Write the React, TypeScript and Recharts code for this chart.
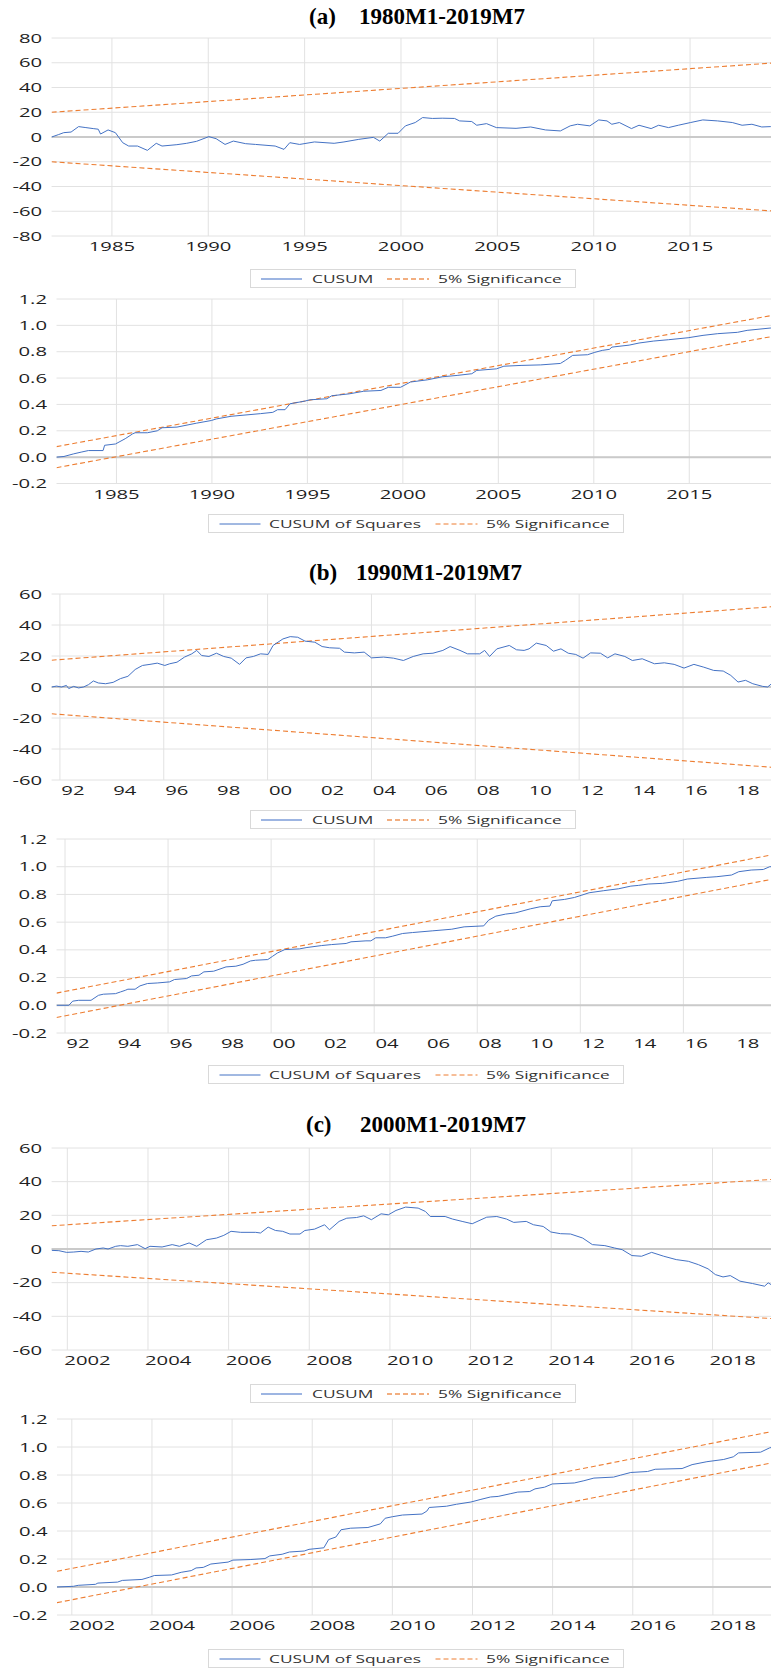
import { LineChart, Line, XAxis, YAxis, CartesianGrid, ReferenceLine } from 'recharts'

type Pt = [number, number]

const BLUE = '#4472C4'
const ORANGE = '#ED7D31'
const GRID = '#E2E2E2'
const SANS = '"Open Sans", sans-serif'
const SERIF = '"Liberation Serif", "Times New Roman", serif'
const STRETCH = 1.62
const PAD = 10 // room above the plot for the top tick label

// (a) 1980M1-2019M7
const cusumA: Pt[] = [
  [1981.87, 0], [1982.24, 2], [1982.5, 3.5], [1982.88, 4], [1983.27, 8.4], [1983.65, 7.6], [1984.03, 6.8],
  [1984.29, 6.3], [1984.41, 2.4], [1984.8, 5.7], [1985.18, 3.5], [1985.56, -4.6], [1985.87, -7.3],
  [1986.33, -7.3], [1986.84, -10.8], [1987.3, -5.1], [1987.6, -7.3], [1988.37, -6.2], [1988.88, -5.1],
  [1989.39, -3.5], [1990.03, 0.3], [1990.41, -1.4], [1990.87, -6], [1991.3, -3.3], [1991.94, -5.4],
  [1992.45, -6], [1993.47, -7.3], [1993.93, -10], [1994.23, -4.6], [1994.74, -6], [1995.51, -4],
  [1996.53, -5.1], [1997.04, -4], [1997.81, -1.9], [1998.57, -0.3], [1998.9, -3.3], [1999.34, 3],
  [1999.85, 3], [2000.23, 9], [2000.74, 11.7], [2001.12, 15.7], [2001.63, 15], [2002.14, 15.2],
  [2002.78, 15], [2003.04, 13], [2003.67, 12.5], [2003.93, 9.5], [2004.44, 10.8], [2004.95, 7.6],
  [2005.97, 7], [2006.73, 8.1], [2007.5, 5.7], [2008.27, 4.9], [2008.78, 9], [2009.16, 10.3],
  [2009.8, 9], [2010.26, 13.8], [2010.69, 13], [2010.94, 10.3], [2011.33, 11.7], [2011.96, 6.8],
  [2012.35, 9.5], [2012.98, 6.8], [2013.37, 9.5], [2013.88, 7.6], [2014.39, 9.5], [2015.03, 11.7],
  [2015.66, 13.8], [2016.43, 13], [2017.19, 11.7], [2017.7, 9.5], [2018.21, 10.3], [2018.72, 8.1],
  [2019.18, 8.4], [2019.5, 8.5],
]
const sigAUp: Pt[] = [[1981.87, 20], [2019.5, 60]]
const sigALo: Pt[] = [[1981.87, -20], [2019.5, -60]]

const cusumSqA: Pt[] = [
  [1981.86, 0], [1982.25, 0.005], [1982.76, 0.025], [1983.15, 0.038], [1983.53, 0.05], [1984.3, 0.05],
  [1984.38, 0.09], [1984.95, 0.1], [1985.46, 0.14], [1985.85, 0.177], [1985.98, 0.185], [1986.62, 0.185],
  [1987.14, 0.2], [1987.39, 0.223], [1988.17, 0.228], [1989.2, 0.258], [1989.97, 0.278], [1990.23, 0.29],
  [1991.0, 0.31], [1992.54, 0.33], [1993.19, 0.34], [1993.44, 0.36], [1993.83, 0.36], [1994.09, 0.405],
  [1994.86, 0.425], [1995.12, 0.435], [1996.02, 0.443], [1996.28, 0.466], [1997.18, 0.48], [1997.95, 0.5],
  [1998.85, 0.506], [1999.24, 0.53], [1999.88, 0.53], [2000.4, 0.57], [2001.3, 0.587], [2002.07, 0.61],
  [2002.84, 0.62], [2003.61, 0.633], [2003.87, 0.658], [2004.9, 0.67], [2005.29, 0.69], [2006.19, 0.696],
  [2007.22, 0.7], [2008.25, 0.711], [2008.51, 0.734], [2008.89, 0.772], [2009.67, 0.777], [2010.05, 0.795],
  [2010.44, 0.81], [2010.82, 0.818], [2010.95, 0.835], [2011.85, 0.85], [2012.37, 0.866], [2013.14, 0.881],
  [2013.91, 0.891], [2014.94, 0.906], [2015.72, 0.924], [2016.49, 0.937], [2017.52, 0.947], [2018.03, 0.962],
  [2019.27, 0.98], [2019.5, 1.0],
]
const sigSqAUp: Pt[] = [[1981.86, 0.08], [2019.5, 1.08]]
const sigSqALo: Pt[] = [[1981.86, -0.08], [2019.5, 0.92]]

// (b) 1990M1-2019M7
const cusumB: Pt[] = [
  [1991.68, 0], [1991.87, 0.6], [1992.06, 0], [1992.25, 1], [1992.34, -1], [1992.53, 0.4], [1992.72, -0.6],
  [1992.91, 0], [1993.1, 1.5], [1993.29, 3.9], [1993.48, 2.6], [1993.76, 2.1], [1994.05, 3], [1994.33, 5.4],
  [1994.62, 6.9], [1994.9, 11.3], [1995.18, 13.9], [1995.47, 14.6], [1995.75, 15.4], [1996.04, 13.9],
  [1996.23, 15], [1996.51, 16], [1996.8, 19.3], [1997.08, 21.4], [1997.27, 23.6], [1997.46, 20.3],
  [1997.74, 19.7], [1998.03, 21.8], [1998.31, 19.7], [1998.6, 18.6], [1998.92, 14.6], [1999.17, 18.8],
  [1999.45, 19.7], [1999.73, 21.4], [2000.02, 21], [2000.21, 26.8], [2000.59, 31], [2000.87, 32.5],
  [2001.16, 32.1], [2001.44, 29.6], [2001.82, 28.9], [2002.1, 26.1], [2002.39, 25.3], [2002.77, 25],
  [2002.96, 22.5], [2003.34, 22], [2003.72, 22.5], [2004.0, 18.8], [2004.47, 19.3], [2004.85, 18.6],
  [2005.23, 17.1], [2005.61, 19.7], [2005.99, 21.4], [2006.37, 21.8], [2006.75, 23.6], [2007.03, 26.1],
  [2007.41, 23.6], [2007.7, 21.4], [2008.17, 21.4], [2008.36, 23.6], [2008.55, 19.7], [2008.83, 24.6],
  [2009.31, 26.8], [2009.59, 24], [2009.88, 23.6], [2010.07, 24.6], [2010.35, 28.3], [2010.73, 26.8],
  [2011.01, 23.1], [2011.3, 24.6], [2011.58, 21.8], [2011.87, 21], [2012.15, 18.6], [2012.44, 22],
  [2012.82, 21.8], [2013.1, 18.8], [2013.38, 21.4], [2013.76, 19.7], [2014.05, 17.1], [2014.43, 18.2],
  [2014.9, 15], [2015.28, 15.6], [2015.66, 14.6], [2016.04, 12.2], [2016.42, 14.6], [2016.8, 12.8],
  [2017.18, 10.7], [2017.55, 10.3], [2017.84, 7.5], [2018.12, 3.2], [2018.41, 4.3], [2018.69, 2.1],
  [2019.07, 0.4], [2019.26, 0], [2019.41, 2.1], [2019.5, 2.5],
]
const sigBUp: Pt[] = [[1991.68, 17.3], [2019.5, 51.9]]
const sigBLo: Pt[] = [[1991.68, -17.3], [2019.5, -51.9]]

const cusumSqB: Pt[] = [
  [1991.68, 0], [1992.15, 0], [1992.3, 0.03], [1992.53, 0.036], [1993.01, 0.036], [1993.3, 0.072],
  [1993.49, 0.08], [1993.96, 0.084], [1994.15, 0.096], [1994.34, 0.108], [1994.44, 0.116], [1994.72, 0.116],
  [1994.91, 0.14], [1995.2, 0.157], [1995.58, 0.161], [1996.06, 0.169], [1996.25, 0.186], [1996.72, 0.193],
  [1996.91, 0.212], [1997.2, 0.217], [1997.39, 0.241], [1997.77, 0.246], [1998.25, 0.277], [1998.63, 0.282],
  [1998.91, 0.296], [1999.2, 0.32], [1999.39, 0.325], [1999.87, 0.33], [2000.06, 0.354], [2000.25, 0.378],
  [2000.53, 0.402], [2001.1, 0.407], [2001.39, 0.417], [2001.96, 0.431], [2002.34, 0.438], [2002.91, 0.446],
  [2003.1, 0.458], [2003.68, 0.465], [2003.87, 0.465], [2004.06, 0.487], [2004.44, 0.487], [2004.72, 0.499],
  [2005.1, 0.518], [2005.49, 0.525], [2006.25, 0.537], [2007.01, 0.549], [2007.49, 0.566], [2008.25, 0.573],
  [2008.44, 0.614], [2008.72, 0.643], [2009.1, 0.658], [2009.49, 0.667], [2010.06, 0.696], [2010.44, 0.711],
  [2010.82, 0.716], [2010.91, 0.754], [2011.39, 0.764], [2011.77, 0.778], [2012.06, 0.795], [2012.34, 0.812],
  [2012.91, 0.827], [2013.49, 0.841], [2013.96, 0.86], [2014.25, 0.865], [2014.63, 0.875], [2015.2, 0.88],
  [2015.77, 0.894], [2016.15, 0.911], [2016.91, 0.923], [2017.3, 0.928], [2017.87, 0.94], [2018.15, 0.964],
  [2018.63, 0.976], [2019.1, 0.98], [2019.35, 1.0], [2019.5, 1.0],
]
const sigSqBUp: Pt[] = [[1991.67, 0.088], [2019.5, 1.088]]
const sigSqBLo: Pt[] = [[1991.67, -0.088], [2019.5, 0.912]]

// (c) 2000M1-2019M7
const cusumC: Pt[] = [
  [2001.61, -0.8], [2001.79, -1], [2001.98, -2], [2002.16, -1.8], [2002.34, -1.4], [2002.52, -1.8],
  [2002.71, 0], [2002.89, 0.6], [2003.01, 0], [2003.2, 1.6], [2003.32, 2], [2003.5, 1.6], [2003.74, 2.6],
  [2003.93, 0.2], [2004.05, 1.6], [2004.35, 1.2], [2004.6, 2.6], [2004.78, 1.6], [2005.02, 3.6],
  [2005.21, 1.6], [2005.45, 5.5], [2005.7, 6.5], [2005.88, 8.1], [2006.06, 10.5], [2006.3, 9.9],
  [2006.67, 9.9], [2006.79, 9.5], [2006.98, 13], [2007.16, 11], [2007.34, 10.5], [2007.52, 8.9],
  [2007.77, 8.9], [2007.89, 11], [2008.13, 11.8], [2008.38, 14.4], [2008.5, 11.4], [2008.74, 16.4],
  [2008.93, 18.3], [2009.17, 18.7], [2009.35, 19.7], [2009.54, 17.4], [2009.78, 20.9], [2009.96, 20.3],
  [2010.15, 22.9], [2010.39, 24.9], [2010.7, 24.3], [2010.88, 22.3], [2011.0, 19.3], [2011.37, 19.3],
  [2011.55, 17.8], [2011.79, 16.4], [2012.04, 15], [2012.4, 18.9], [2012.65, 19.3], [2012.89, 17.8],
  [2013.07, 15.8], [2013.38, 16.4], [2013.56, 14.4], [2013.8, 13.4], [2013.99, 10.1], [2014.23, 9.1],
  [2014.48, 8.9], [2014.78, 6.5], [2015.02, 2.6], [2015.33, 2], [2015.57, 0.6], [2015.76, -0.4],
  [2016.0, -3.9], [2016.24, -4.3], [2016.49, -2], [2016.79, -4.3], [2017.1, -6.3], [2017.4, -7.3],
  [2017.65, -9.3], [2017.89, -11.8], [2018.07, -15.2], [2018.26, -16.6], [2018.44, -15.8], [2018.68, -19.1],
  [2018.99, -20.5], [2019.29, -22.1], [2019.38, -20.1], [2019.45, -21.1], [2019.5, -21],
]
const sigCUp: Pt[] = [[2001.61, 13.8], [2019.5, 41.4]]
const sigCLo: Pt[] = [[2001.61, -13.8], [2019.5, -41.4]]

const cusumSqC: Pt[] = [
  [2001.61, 0], [2002.04, 0.005], [2002.16, 0.012], [2002.59, 0.019], [2002.65, 0.028], [2003.14, 0.035],
  [2003.26, 0.047], [2003.75, 0.054], [2003.94, 0.07], [2004.06, 0.082], [2004.49, 0.086], [2004.73, 0.105],
  [2004.98, 0.117], [2005.1, 0.136], [2005.28, 0.14], [2005.47, 0.164], [2005.9, 0.178], [2006.02, 0.192],
  [2006.45, 0.196], [2006.82, 0.203], [2006.94, 0.222], [2007.25, 0.234], [2007.43, 0.25], [2007.8, 0.257],
  [2007.92, 0.269], [2008.29, 0.28], [2008.41, 0.339], [2008.59, 0.357], [2008.72, 0.409], [2008.96, 0.42],
  [2009.39, 0.425], [2009.7, 0.451], [2009.82, 0.491], [2010.0, 0.502], [2010.25, 0.514], [2010.74, 0.521],
  [2010.86, 0.542], [2010.92, 0.568], [2011.35, 0.577], [2011.6, 0.591], [2011.96, 0.607], [2012.21, 0.626],
  [2012.45, 0.643], [2012.64, 0.647], [2012.94, 0.666], [2013.13, 0.678], [2013.43, 0.682], [2013.56, 0.701],
  [2013.8, 0.713], [2013.99, 0.736], [2014.54, 0.743], [2014.78, 0.759], [2015.03, 0.778], [2015.52, 0.785],
  [2015.7, 0.799], [2015.95, 0.818], [2016.37, 0.825], [2016.56, 0.841], [2017.23, 0.846], [2017.48, 0.874],
  [2017.85, 0.895], [2018.27, 0.911], [2018.51, 0.93], [2018.64, 0.958], [2019.19, 0.963], [2019.41, 0.993],
  [2019.5, 1.0],
]
const sigSqCUp: Pt[] = [[2001.63, 0.112], [2019.5, 1.112]]
const sigSqCLo: Pt[] = [[2001.63, -0.112], [2019.5, 0.888]]

// axis ticks
const cusumTicksA = [-80, -60, -40, -20, 0, 20, 40, 60, 80]
const cusumTicksBC = [-60, -40, -20, 0, 20, 40, 60]
const sqTicks = [-0.2, 0, 0.2, 0.4, 0.6, 0.8, 1.0, 1.2]
const yearsA = [1985, 1990, 1995, 2000, 2005, 2010, 2015]
const labelsB = [1992.5, 1994.5, 1996.5, 1998.5, 2000.5, 2002.5, 2004.5, 2006.5, 2008.5, 2010.5, 2012.5, 2014.5, 2016.5, 2018.5]
const gridB = [1992, 1996, 2000, 2004, 2008, 2012, 2016]
const labelsC = [2002.5, 2004.5, 2006.5, 2008.5, 2010.5, 2012.5, 2014.5, 2016.5, 2018.5]
const gridC = [2002, 2004, 2006, 2008, 2010, 2012, 2014, 2016, 2018]

const toRows = (pts: Pt[]) => pts.map(([x, y]) => ({ x, y }))
const fullYear = (v: number) => String(Math.floor(v))
const shortYear = (v: number) => String(Math.floor(v) % 100).padStart(2, '0')
const intFmt = (v: number) => String(v)
const decFmt = (v: number) => v.toFixed(1)

function XTick({ x, y, payload, fmt }: any) {
  return (
    <g transform={`translate(${x},${y + 15})`}>
      <text transform={`scale(${STRETCH},1)`} textAnchor="middle" fontFamily={SANS} fontSize={12.5} fill="#1f1f1f">
        {fmt(payload.value)}
      </text>
    </g>
  )
}

function YTick({ x, y, payload, fmt }: any) {
  return (
    <g transform={`translate(${x},${y + 4.5})`}>
      <text transform={`scale(${STRETCH},1)`} textAnchor="end" fontFamily={SANS} fontSize={12.5} fill="#1f1f1f">
        {fmt(payload.value)}
      </text>
    </g>
  )
}

interface PanelProps {
  top: number
  bottom: number
  left: number
  xDomain: [number, number]
  xTicks: number[]
  xGrid: number[]
  xFmt: (v: number) => string
  yDomain: [number, number]
  yTicks: number[]
  yFmt: (v: number) => string
  series: Pt[]
  upper: Pt[]
  lower: Pt[]
}

function Panel(p: PanelProps) {
  const h = p.bottom - p.top
  return (
    <div style={{ position: 'absolute', left: 0, top: p.top - PAD }}>
      <LineChart width={771} height={h + 24 + PAD} margin={{ top: PAD, right: 0, bottom: 0, left: 0 }}>
        <CartesianGrid vertical={false} stroke={GRID} />
        <XAxis
          type="number"
          dataKey="x"
          domain={p.xDomain}
          allowDataOverflow
          ticks={p.xTicks}
          interval={0}
          tickSize={0}
          tickMargin={0}
          axisLine={false}
          tickLine={false}
          height={24}
          tick={<XTick fmt={p.xFmt} />}
        />
        <YAxis
          type="number"
          dataKey="y"
          domain={p.yDomain}
          allowDataOverflow
          ticks={p.yTicks}
          interval={0}
          tickSize={0}
          tickMargin={9.5}
          axisLine={false}
          tickLine={false}
          width={p.left}
          tick={<YTick fmt={p.yFmt} />}
        />
        {p.xGrid.map((g) => (
          <ReferenceLine key={g} x={g} stroke={GRID} />
        ))}
        <ReferenceLine y={0} stroke="#CACACA" strokeWidth={2} />
        <Line data={toRows(p.upper)} dataKey="y" stroke={ORANGE} strokeWidth={1.1} strokeDasharray="5 3" dot={false} isAnimationActive={false} />
        <Line data={toRows(p.lower)} dataKey="y" stroke={ORANGE} strokeWidth={1.1} strokeDasharray="5 3" dot={false} isAnimationActive={false} />
        <Line data={toRows(p.series)} dataKey="y" stroke={BLUE} strokeWidth={1} dot={false} isAnimationActive={false} />
      </LineChart>
    </div>
  )
}

function StretchText({ x, children }: { x: number; children: string }) {
  return (
    <span
      style={{
        position: 'absolute',
        left: x,
        top: 0,
        lineHeight: '19px',
        fontFamily: SANS,
        fontSize: 10.5,
        color: '#333',
        whiteSpace: 'nowrap',
        transform: `scaleX(1.65)`,
        transformOrigin: 'left center',
      }}
    >
      {children}
    </span>
  )
}

function LegendBox({ top, squares }: { top: number; squares?: boolean }) {
  const left = squares ? 207.5 : 250
  const width = squares ? 416 : 326
  const solidX = squares ? 11.5 : 11
  const textX = squares ? 61.5 : 62
  const dashX = squares ? 227.5 : 137
  const sigX = squares ? 278.5 : 188
  const solidColor = squares ? BLUE : '#9DB5E2'
  const dashColor = squares ? ORANGE : '#F2AE80'
  const sw = squares ? 1 : 2
  return (
    <div
      style={{
        position: 'absolute',
        left,
        top,
        width,
        height: 19,
        border: '1px solid #D9D9D9',
        boxSizing: 'border-box',
        background: '#fff',
      }}
    >
      <svg width={width} height={19} style={{ position: 'absolute', left: -1, top: -1 }}>
        <line x1={solidX} x2={solidX + 41} y1={10} y2={10} stroke={solidColor} strokeWidth={sw} />
        <line x1={dashX} x2={dashX + 42} y1={10} y2={10} stroke={dashColor} strokeWidth={sw} strokeDasharray="5 3" />
      </svg>
      <StretchText x={textX - 1}>{squares ? 'CUSUM of Squares' : 'CUSUM'}</StretchText>
      <StretchText x={sigX - 1}>5% Significance</StretchText>
    </div>
  )
}

function Title({ y, tag, period, tagX, periodX }: { y: number; tag: string; period: string; tagX: number; periodX: number }) {
  const s = {
    position: 'absolute' as const,
    top: y - 14,
    lineHeight: '28px',
    fontFamily: SERIF,
    fontWeight: 700,
    fontSize: 23,
    color: '#000',
    whiteSpace: 'nowrap' as const,
  }
  return (
    <>
      <div style={{ ...s, left: tagX }}>{tag}</div>
      <div style={{ ...s, left: periodX }}>{period}</div>
    </>
  )
}

export default function App() {
  return (
    <div style={{ position: 'absolute', left: 0, top: 0, width: 771, height: 1669, overflow: 'hidden', background: '#fff' }}>
      <Title y={17} tag="(a)" period="1980M1-2019M7" tagX={309} periodX={359} />
      <Panel
        top={38} bottom={236} left={51.6}
        xDomain={[1981.87, 2019.2]} xTicks={yearsA} xGrid={yearsA} xFmt={fullYear}
        yDomain={[-80, 80]} yTicks={cusumTicksA} yFmt={intFmt}
        series={cusumA} upper={sigAUp} lower={sigALo}
      />
      <LegendBox top={269} />
      <Panel
        top={298.5} bottom={483} left={56.5}
        xDomain={[1981.86, 2019.28]} xTicks={yearsA} xGrid={yearsA} xFmt={fullYear}
        yDomain={[-0.2, 1.2]} yTicks={sqTicks} yFmt={decFmt}
        series={cusumSqA} upper={sigSqAUp} lower={sigSqALo}
      />
      <LegendBox top={514} squares />

      <Title y={573} tag="(b)" period="1990M1-2019M7" tagX={309} periodX={356} />
      <Panel
        top={594} bottom={780} left={51.6}
        xDomain={[1991.68, 2019.39]} xTicks={labelsB} xGrid={gridB} xFmt={shortYear}
        yDomain={[-60, 60]} yTicks={cusumTicksBC} yFmt={intFmt}
        series={cusumB} upper={sigBUp} lower={sigBLo}
      />
      <LegendBox top={810} />
      <Panel
        top={839} bottom={1033} left={56.5}
        xDomain={[1991.67, 2019.4]} xTicks={labelsB} xGrid={gridB} xFmt={shortYear}
        yDomain={[-0.2, 1.2]} yTicks={sqTicks} yFmt={decFmt}
        series={cusumSqB} upper={sigSqBUp} lower={sigSqBLo}
      />
      <LegendBox top={1065} squares />

      <Title y={1125} tag="(c)" period="2000M1-2019M7" tagX={306} periodX={360} />
      <Panel
        top={1148} bottom={1350} left={51.6}
        xDomain={[2001.61, 2019.45]} xTicks={labelsC} xGrid={gridC} xFmt={fullYear}
        yDomain={[-60, 60]} yTicks={cusumTicksBC} yFmt={intFmt}
        series={cusumC} upper={sigCUp} lower={sigCLo}
      />
      <LegendBox top={1384} />
      <Panel
        top={1419} bottom={1615} left={57}
        xDomain={[2001.63, 2019.45]} xTicks={labelsC} xGrid={gridC} xFmt={fullYear}
        yDomain={[-0.2, 1.2]} yTicks={sqTicks} yFmt={decFmt}
        series={cusumSqC} upper={sigSqCUp} lower={sigSqCLo}
      />
      <LegendBox top={1649} squares />
    </div>
  )
}
